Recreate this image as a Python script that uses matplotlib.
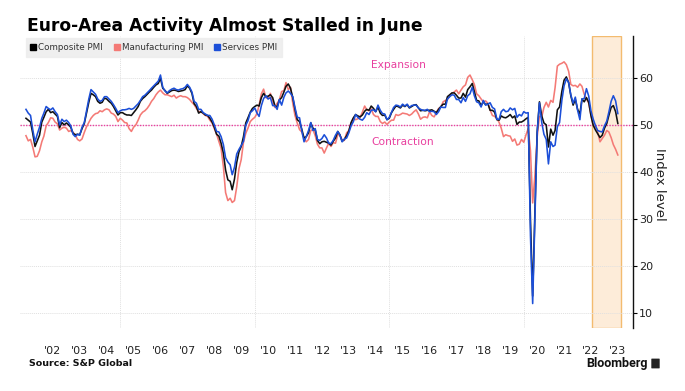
import matplotlib
matplotlib.use('Agg')
import pandas as pd
import matplotlib.pyplot as plt
from matplotlib.lines import Line2D
from matplotlib.patches import FancyBboxPatch

# monthly PMI readings, Jun 2001 .. Jun 2023
composite = [
    51.4, 51.0, 50.6, 48.2, 45.4, 46.6, 47.8,                          # 2001 (Jun-Dec)
    50.6, 51.6, 52.8, 53.3, 52.6, 52.8, 52.3, 51.8, 49.4, 50.5, 50.0, 50.4,  # 2002
    50.0, 49.5, 48.2, 47.9, 48.0, 47.9, 49.2, 50.3, 52.5, 54.8, 56.7, 56.4,  # 2003
    56.0, 55.0, 54.6, 54.8, 55.7, 55.5, 55.0, 54.6, 53.9, 53.0, 52.1, 52.6,  # 2004
    52.6, 52.3, 52.1, 52.1, 52.0, 52.6, 53.2, 53.9, 55.0, 55.6, 56.0, 56.5,  # 2005
    57.0, 57.4, 58.0, 58.5, 58.8, 59.9, 57.8, 57.3, 56.7, 57.0, 57.3, 57.4,  # 2006
    57.3, 57.1, 57.2, 57.3, 57.5, 58.3, 57.8, 56.7, 54.5, 53.9, 52.5, 52.8,  # 2007
    52.5, 52.1, 52.0, 51.4, 50.6, 49.5, 48.0, 47.6, 46.1, 44.0, 40.4, 38.3,  # 2008
    38.0, 36.2, 38.5, 42.0, 44.3, 45.4, 47.5, 50.4, 51.5, 52.7, 53.5, 53.9,  # 2009
    54.2, 54.0, 55.8, 56.7, 56.0, 56.1, 56.4, 55.8, 54.1, 53.8, 55.3, 55.8,  # 2010
    57.0, 58.2, 58.7, 57.8, 55.8, 53.3, 51.1, 50.7, 49.1, 47.2, 47.5, 48.3,  # 2011
    50.4, 49.3, 48.9, 46.7, 46.0, 46.4, 46.5, 46.3, 46.1, 45.7, 46.5, 47.2,  # 2012
    48.6, 47.9, 46.5, 46.9, 47.7, 48.7, 50.5, 51.5, 52.2, 51.9, 51.7, 52.1,  # 2013
    52.9, 53.3, 53.1, 54.0, 53.5, 52.8, 53.8, 52.5, 52.0, 52.1, 51.1, 51.4,  # 2014
    52.6, 53.3, 54.0, 53.9, 53.6, 54.2, 53.9, 54.3, 53.6, 53.9, 54.2, 54.3,  # 2015
    53.6, 53.0, 53.1, 53.0, 53.1, 53.1, 53.2, 52.9, 52.6, 53.3, 53.9, 54.4,  # 2016
    54.4, 56.0, 56.4, 56.8, 56.8, 56.3, 55.7, 55.7, 56.7, 55.9, 57.5, 58.1,  # 2017
    58.8, 57.1, 55.2, 55.1, 54.1, 54.9, 54.3, 54.5, 53.1, 53.1, 52.7, 51.1,  # 2018
    51.0, 51.9, 51.6, 51.5, 51.8, 52.2, 51.5, 51.9, 50.1, 50.6, 50.6, 50.9,  # 2019
    51.3, 51.6, 29.7, 13.6, 31.9, 48.5, 54.9, 51.9, 50.4, 50.0, 45.3, 49.1,  # 2020
    47.8, 48.8, 53.2, 53.8, 57.1, 59.5, 60.2, 59.0, 56.2, 54.2, 55.4, 53.3,  # 2021
    52.3, 55.5, 54.9, 55.8, 54.8, 52.0, 49.9, 48.9, 48.1, 47.3, 47.8, 49.3,  # 2022
    50.3, 52.0, 53.7, 54.1, 52.8, 50.3,                                # 2023 (Jan-Jun)
]

manufacturing = [
    47.7, 46.6, 46.9, 45.3, 43.2, 43.3, 44.5,
    46.4, 47.6, 49.8, 50.5, 51.5, 51.4, 50.6, 50.2, 48.9, 49.3, 49.5, 49.3,
    48.6, 48.8, 48.4, 47.9, 46.9, 46.6, 47.0, 48.4, 49.6, 50.5, 51.4, 52.0,
    52.4, 52.5, 53.0, 52.8, 53.2, 53.4, 53.2, 52.5, 52.3, 51.8, 50.7, 51.4,
    51.0, 50.5, 50.4, 49.2, 48.6, 49.5, 50.0, 51.0, 52.1, 52.7, 53.0, 53.5,
    54.2, 55.0, 55.6, 56.4, 57.0, 57.4, 56.8, 56.4, 56.4, 56.2, 56.0, 56.3,
    55.7, 56.0, 56.2, 56.0, 56.0, 55.8, 55.4, 54.8, 54.3, 53.5, 52.8, 52.8,
    52.4, 52.0, 51.8, 51.0, 50.4, 49.2, 48.0, 46.5, 45.0, 41.1, 35.6, 33.9,
    34.4, 33.5, 33.9, 36.8, 40.7, 42.6, 46.3, 48.2, 49.3, 50.7, 51.2, 51.6,
    52.4, 54.2, 56.6, 57.6, 55.8, 55.6, 56.7, 55.1, 53.7, 54.6, 55.3, 57.1,
    57.3, 59.0, 57.5, 58.0, 54.6, 52.0, 50.4, 49.0, 48.5, 47.1, 46.4, 46.9,
    48.8, 49.0, 47.7, 45.9, 45.1, 45.1, 44.0, 45.1, 46.1, 45.4, 46.2, 46.1,
    47.9, 47.9, 46.8, 46.7, 48.3, 48.8, 50.3, 51.4, 51.1, 51.3, 51.6, 52.7,
    54.0, 53.2, 53.0, 53.4, 52.2, 51.8, 51.8, 50.7, 50.3, 50.6, 50.1, 50.6,
    51.0, 51.0, 52.2, 52.0, 52.2, 52.5, 52.4, 52.3, 52.0, 52.3, 52.8, 53.2,
    52.3, 51.2, 51.6, 51.7, 51.5, 52.8, 52.0, 51.7, 52.6, 53.5, 53.7, 54.9,
    55.2, 55.4, 56.2, 56.7, 57.0, 57.4, 56.6, 57.4, 58.1, 58.5, 60.1, 60.6,
    59.6, 58.6, 56.6, 56.2, 55.5, 54.9, 55.1, 54.6, 53.2, 52.0, 51.8, 51.4,
    50.5, 49.3, 47.5, 47.9, 47.7, 47.6, 46.5, 47.0, 45.7, 45.9, 46.9, 46.3,
    47.9, 49.2, 44.5, 33.4, 39.4, 47.4, 51.8, 51.7, 53.7, 54.8, 53.8, 55.2,
    54.8, 57.9, 62.5, 62.9, 63.1, 63.4, 62.8, 61.4, 58.6, 58.3, 58.4, 58.0,
    58.7, 58.2, 56.5, 55.5, 54.6, 52.1, 49.8, 49.6, 48.4, 46.4, 47.1, 47.8,
    48.8, 48.5, 47.3, 45.8, 44.8, 43.6,
]

services = [
    53.3, 52.5, 52.0, 49.0, 46.4, 48.0, 49.5,
    51.4, 52.5, 53.9, 53.5, 53.2, 53.6, 52.8, 52.2, 50.0, 51.2, 50.7, 51.0,
    50.5, 49.8, 48.0, 47.5, 48.0, 47.8, 49.5, 50.5, 53.0, 55.5, 57.5, 57.0,
    56.5, 55.5, 55.0, 55.2, 56.0, 56.0, 55.5, 55.0, 54.3, 53.5, 52.6, 53.0,
    53.2, 53.2, 53.3, 53.5, 53.3, 53.5, 54.0, 54.5, 55.2, 56.0, 56.3, 56.8,
    57.3, 57.8, 58.3, 58.8, 59.3, 60.6, 58.0, 57.2, 56.8, 57.3, 57.6, 57.8,
    57.5, 57.4, 57.6, 57.7, 58.0, 58.6, 58.0, 57.0, 55.0, 54.6, 53.3, 53.3,
    52.6, 52.3, 52.0, 52.0, 51.2, 50.0, 48.6, 48.5, 47.5, 45.8, 43.0, 42.1,
    41.5, 39.4, 41.0, 43.8, 44.8, 45.6, 46.5, 49.9, 50.9, 52.6, 53.0, 53.6,
    52.5, 51.8, 54.1, 55.6, 56.2, 55.5, 55.8, 54.1, 54.1, 53.3, 55.4, 54.2,
    55.9, 56.8, 57.2, 56.7, 56.0, 53.7, 51.6, 51.5, 48.8, 46.4, 47.5, 48.8,
    50.5, 48.8, 49.2, 46.9, 46.7, 47.1, 47.9, 47.2, 46.1, 46.0, 46.7, 47.8,
    48.6, 47.9, 46.4, 47.0, 47.2, 48.3, 49.8, 50.7, 52.2, 51.6, 51.2, 51.0,
    51.6, 52.6, 52.2, 53.1, 53.2, 52.8, 54.2, 53.1, 52.4, 52.3, 51.1, 51.6,
    52.7, 53.7, 54.2, 54.1, 53.8, 54.4, 54.0, 54.4, 53.7, 54.1, 54.2, 54.2,
    53.6, 53.3, 53.1, 53.1, 53.3, 52.8, 52.9, 52.8, 52.2, 52.8, 53.8, 53.7,
    53.7, 55.5, 56.0, 56.4, 56.3, 55.4, 55.4, 54.7, 55.8, 55.0, 56.2, 56.6,
    58.0, 56.2, 54.9, 54.7, 53.8, 55.2, 54.2, 54.4, 54.7, 53.7, 53.4, 51.2,
    51.2, 52.8, 53.3, 52.8, 52.9, 53.6, 53.2, 53.5, 51.6, 52.2, 51.9, 52.8,
    52.5, 52.6, 26.4, 12.0, 30.5, 48.3, 54.7, 50.5, 48.0, 46.9, 41.7, 46.4,
    45.4, 45.7, 49.6, 50.5, 55.2, 58.3, 59.8, 59.0, 56.4, 54.6, 55.9, 53.1,
    51.1, 55.5, 55.6, 57.7, 56.1, 53.0, 51.2, 49.8, 48.8, 48.6, 48.5, 49.8,
    50.8, 52.7, 55.0, 56.2, 55.1, 52.4,
]

first_month = '2001-06-30'
years = list(range(2002, 2024))
year_labels = ["'" + str(y)[2:] for y in years]
grid_years = [2005, 2010, 2015, 2020]
y_ticks = [10, 20, 30, 40, 50, 60]
shade_start, shade_end = '2022-07-19', '2023-08-14'

MAGENTA = '#e83f9e'
GRID = '#e0e0e0'

dates = pd.date_range(first_month, periods=len(composite), freq='ME')

fig = plt.figure(figsize=(6.85, 3.91), dpi=100)
W, H = 685, 391
ax = fig.add_axes([20 / W, 1 - 328 / H, 613 / W, 292 / H])

ax.axvspan(pd.Timestamp(shade_start), pd.Timestamp(shade_end),
           facecolor='#fdecd9', edgecolor='#f3bb6f', lw=1.0, zorder=0)

ax.plot(dates, manufacturing, color='#f47a76', lw=1.15, zorder=3)
ax.plot(dates, composite, color='#111111', lw=1.15, zorder=4)
ax.plot(dates, services, color='#1c4fd8', lw=1.15, zorder=5)

ax.axhline(50, color=MAGENTA, lw=1.0, ls=(0, (1, 1)), zorder=2)

ax.set_ylim(6.8, 68.9)
ax.set_xlim(pd.Timestamp('2001-04-10'), pd.Timestamp('2024-01-22'))

ax.set_yticks(y_ticks)
ax.yaxis.tick_right()
ax.set_xticks([pd.Timestamp(f'{y}-07-01') for y in years])
ax.set_xticklabels(year_labels)
ax.set_xticks([pd.Timestamp(f'{y}-01-01') for y in grid_years], minor=True)

ax.tick_params(axis='x', which='both', length=0, labelsize=8, pad=13, labelcolor='#222222')
ax.tick_params(axis='y', direction='out', length=3, width=0.8, labelsize=8, pad=1.5,
               labelcolor='#222222')

ax.grid(axis='y', color=GRID, lw=0.7, ls=(0, (1, 1)))
ax.grid(axis='x', which='minor', color=GRID, lw=0.7, ls=(0, (1, 1)))
ax.set_axisbelow(True)

for s in ['top', 'left', 'bottom']:
    ax.spines[s].set_visible(False)
ax.spines['right'].set_linewidth(1.0)
ax.spines['right'].set_color('#111111')

ax.text(pd.Timestamp('2015-05-10'), 62.8, 'Expansion', color=MAGENTA, fontsize=7.7,
        ha='center', va='center')
ax.text(pd.Timestamp('2015-07-01'), 46.4, 'Contraction', color=MAGENTA, fontsize=7.7,
        ha='center', va='center')

fig.text(660 / W, 1 - 184 / H, 'Index level', rotation=270, fontsize=9.5,
         ha='center', va='center', color='#222222')

handles = [
    Line2D([0], [0], marker='s', ls='none', markersize=5, color='#000000'),
    Line2D([0], [0], marker='s', ls='none', markersize=5, color='#f47a76'),
    Line2D([0], [0], marker='s', ls='none', markersize=5, color='#1c4fd8'),
]
leg = ax.legend(handles, ['Composite PMI', 'Manufacturing PMI', 'Services PMI'],
                loc='upper left', bbox_to_anchor=(26 / W, 1 - 38 / H),
                bbox_transform=fig.transFigure, ncol=3, fontsize=6.3,
                handlelength=0.6, handletextpad=0.25, columnspacing=1.3,
                borderpad=0.55, borderaxespad=0, frameon=True, fancybox=False)
leg.get_frame().set_facecolor('#eeeeee')
leg.get_frame().set_edgecolor('#eeeeee')
leg.get_frame().set_alpha(0.9)
for t in leg.get_texts():
    t.set_color('#333333')

title = fig.text(27 / W, 1 - 31 / H, 'Euro-Area Activity Almost Stalled in June',
                 fontsize=13, weight='bold', va='baseline', color='#000000')
fig.canvas.draw()
w = title.get_window_extent().width
title.set_fontsize(13 * 393 / w)

fig.text(29 / W, 1 - 364 / H, 'Source: S&P Global', fontsize=6.8, weight='bold',
         va='center', color='#111111')
fig.text(648 / W, 1 - 363 / H, 'Bloomberg', fontsize=9, weight='bold',
         family='Roboto', ha='right', va='center', color='#111111')
fig.patches.append(FancyBboxPatch((652 / W, 1 - 368 / H), 7 / W, 9 / H,
                                  boxstyle='round,pad=0.001', transform=fig.transFigure,
                                  facecolor='#222222', edgecolor='none'))

fig.savefig('out.png', dpi=100)
